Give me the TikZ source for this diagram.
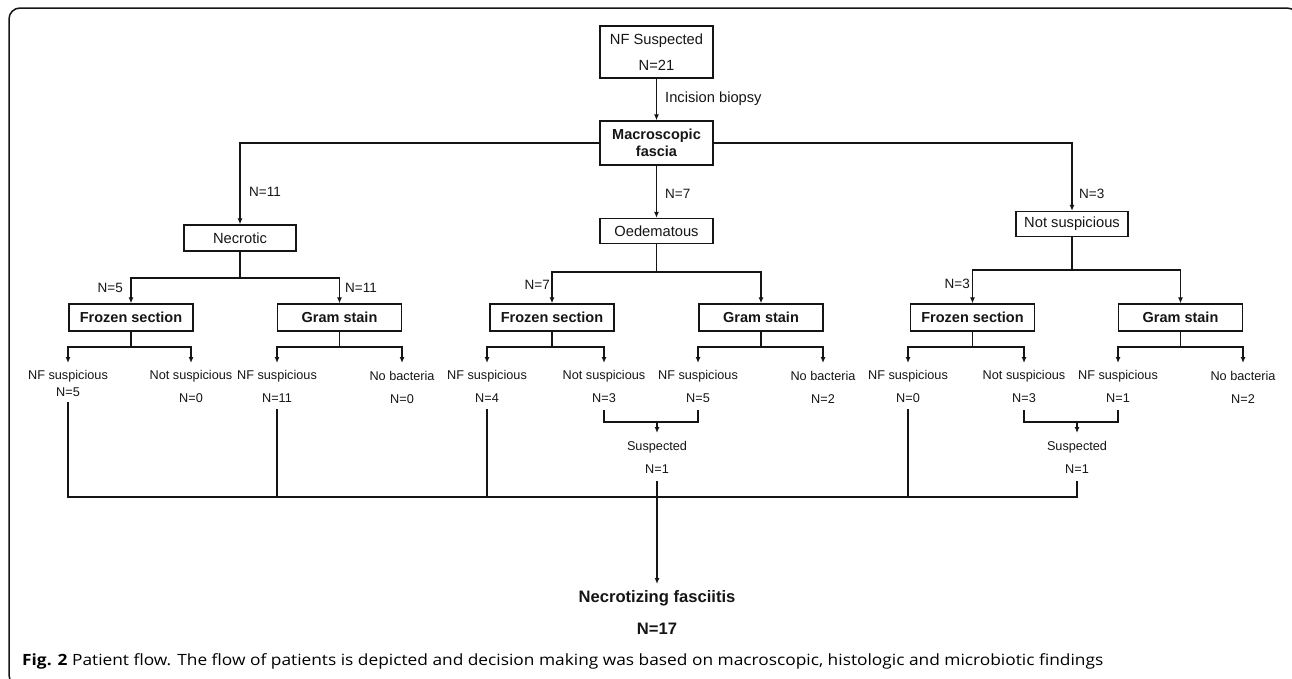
\documentclass[tikz,border=0pt]{standalone}
\usepackage{fontspec}
\setmainfont{Liberation Sans}
\newfontfamily\capfont{Open Sans}
\usetikzlibrary{arrows.meta,calc}
\definecolor{lc}{HTML}{151515}
\begin{document}
\begin{tikzpicture}[x=1pt,y=-1pt,
  ln/.style={line width=1.3pt, draw=lc},
  arr/.style={ln, -{Latex[length=6pt,width=5pt]}},
  box/.style={draw=lc, line width=1.3pt, inner sep=0pt, align=center, text=lc, font=\fontsize{14.7}{17}\selectfont},
  bbox/.style={box, font=\fontsize{14.5}{17}\selectfont\bfseries},
  tbox/.style={bbox, minimum width=124pt, minimum height=27pt},
  leaf/.style={inner sep=0pt, text=lc, font=\fontsize{12.7}{15}\selectfont},
  nlab/.style={inner sep=0pt, text=lc, font=\fontsize{13.5}{15}\selectfont},
]
\clip (0,0) rectangle (1292,678);
\useasboundingbox (0,0) rectangle (1292,678);
\draw[line width=1.5pt, draw=lc, rounded corners=11pt] (9,8) rectangle (1298,686);

% top
\node[box, minimum width=113pt, minimum height=52pt, font=\fontsize{14.7}{26}\selectfont] (nfs) at (656.5,52) {NF Suspected\\N=21};
\node[bbox, minimum width=113pt, minimum height=44pt] (mac) at (656.5,143) {Macroscopic\\fascia};
\draw[arr] (nfs) -- (mac);
\node[nlab, anchor=west, font=\fontsize{14.7}{17}\selectfont] (inc) at (665,99) {Incision biopsy};

% level 2
\node[box, minimum width=112pt, minimum height=26pt] (nec) at (240,238) {Necrotic};
\node[box, minimum width=113pt, minimum height=25pt] (oed) at (656.5,231) {Oedematous};
\node[box, minimum width=112pt, minimum height=25pt] (nsp) at (1072,224) {Not suspicious};
\draw[arr] (mac.west) -| (nec);
\draw[arr] (mac.east) -| (nsp);
\draw[arr] (mac) -- (oed);
\node[nlab, anchor=west] (n11) at (249,192) {N=11};
\node[nlab, anchor=west] (n7) at (665,194) {N=7};
\node[nlab, anchor=west] (n3) at (1079,194) {N=3};

% level 3
\node[tbox] (fz1) at (131,317.5) {Frozen section};
\node[tbox] (gs1) at (339.5,317.5) {Gram stain};
\node[tbox] (fz2) at (552,317.5) {Frozen section};
\node[tbox] (gs2) at (761,317.5) {Gram stain};
\node[tbox] (fz3) at (972.5,317.5) {Frozen section};
\node[tbox] (gs3) at (1180.5,317.5) {Gram stain};
\coordinate (j1) at (240,278);
\coordinate (j2) at (656.5,272);
\coordinate (j3) at (1072,270);
\draw[ln] (nec) -- (j1);
\draw[ln] (oed) -- (j2);
\draw[ln] (nsp) -- (j3);
\draw[arr] (j1) -| (fz1);
\draw[arr] (j1) -| (gs1);
\draw[arr] (j2) -| (fz2);
\draw[arr] (j2) -| (gs2);
\draw[arr] (j3) -| (fz3);
\draw[arr] (j3) -| (gs3);
\node[nlab, anchor=east] (n5a) at (123,288) {N=5};
\node[nlab, anchor=west] (n11a) at (345,288) {N=11};
\node[nlab, anchor=east] (n7a) at (550,285) {N=7};
\node[nlab, anchor=east] (n3a) at (970,284) {N=3};

% leaves
\foreach \i/\x/\t/\n/\ny in {1/68/NF suspicious/N=5/392, 2/191/Not suspicious/N=0/398, 3/277/NF suspicious/N=11/398, 4/402/No bacteria/N=0/399,
  5/487/NF suspicious/N=4/398, 6/604/Not suspicious/N=3/398, 7/698/NF suspicious/N=5/398, 8/823/No bacteria/N=2/399,
  9/908/NF suspicious/N=0/398, 10/1024/Not suspicious/N=3/398, 11/1118/NF suspicious/N=1/398, 12/1243/No bacteria/N=2/399}{
  \node[leaf] (l\i) at (\x,376) {\t};
  \node[leaf] (ln\i) at (\x,\ny) {\n};
}
\foreach \b/\p/\q in {fz1/1/2, gs1/3/4, fz2/5/6, gs2/7/8, fz3/9/10, gs3/11/12}{
  \coordinate (k\b) at ($(\b.center)+(0,29.5)$);
  \draw[ln] (\b) -- (k\b);
  \draw[arr] (k\b) -| ([yshift=13pt]l\p.center);
  \draw[arr] (k\b) -| ([yshift=13pt]l\q.center);
}

% merges
\coordinate (m2) at (657,422);
\coordinate (m3) at (1077,422);
\draw[ln] ([yshift=-12pt]ln6.center) -- (ln6.center |- m2) -- (ln7.center |- m2) -- ([yshift=-12pt]ln7.center);
\draw[ln] ([yshift=-12pt]ln10.center) -- (ln10.center |- m3) -- (ln11.center |- m3) -- ([yshift=-12pt]ln11.center);
\node[leaf] (s2) at (657,447) {Suspected};
\node[leaf] (s2n) at (657,469) {N=1};
\node[leaf] (s3) at (1077,447) {Suspected};
\node[leaf] (s3n) at (1077,469) {N=1};
\draw[arr] (m2) -- ([yshift=14pt]s2.center);
\draw[arr] (m3) -- ([yshift=14pt]s3.center);

% collector
\coordinate (bot) at (657,497);
\node[inner sep=0pt, text=lc, font=\fontsize{16.6}{20}\selectfont\bfseries] (nf) at (657,598) {Necrotizing fasciitis};
\node[inner sep=0pt, text=lc, font=\fontsize{16.6}{20}\selectfont\bfseries] (nf17) at (657,629) {N=17};
\draw[ln] ([yshift=-10pt]ln1.center) |- (bot);
\draw[ln] ([yshift=-11pt]ln3.center) -- (ln3.center |- bot);
\draw[ln] ([yshift=-11pt]ln5.center) -- (ln5.center |- bot);
\draw[ln] ([yshift=-11pt]ln9.center) -- (ln9.center |- bot);
\draw[ln] ([yshift=-12pt]s3n.center) |- (bot);
\draw[arr] ([yshift=-12pt]s2n.center) -- ([yshift=14pt]nf.center);

% caption
\node[anchor=west, inner sep=0pt] (cap) at (22,661) {\resizebox{1081pt}{\height}{\capfont\fontsize{15.5}{18}\selectfont\textbf{Fig. 2} Patient flow. The flow of patients is depicted and decision making was based on macroscopic, histologic and microbiotic findings}};
\end{tikzpicture}
\end{document}
